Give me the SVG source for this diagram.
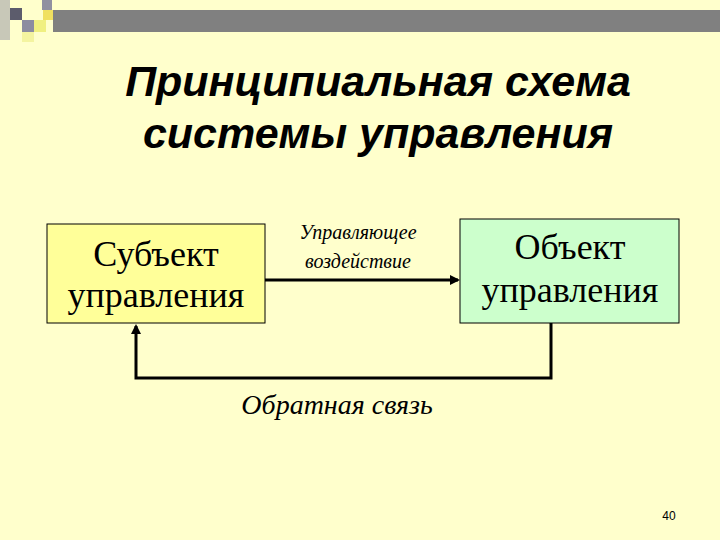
<svg xmlns="http://www.w3.org/2000/svg" width="720" height="540" viewBox="0 0 720 540">
<style>
.t{font-family:"Liberation Sans",Arial,sans-serif;font-weight:bold;font-style:italic;font-size:43px;fill:#000}
.b{font-family:"Liberation Serif","Times New Roman",serif;font-size:36px;fill:#000}
.i{font-family:"Liberation Serif","DejaVu Serif","Times New Roman",serif;font-style:italic;font-size:20px;fill:#000}
.c{stroke:#000;stroke-width:3;fill:none}
</style>
<defs><marker id="a" markerWidth="10" markerHeight="10" refX="8" refY="5" orient="auto" markerUnits="userSpaceOnUse"><path d="M0,0L10,5L0,10z" fill="#000"/></marker></defs>
<rect width="720" height="540" fill="#FFFFCC"/>
<g id="decor">
<rect x="0" y="0" width="10" height="40" fill="#C8C8B8"/>
<rect x="10" y="8" width="12" height="12" fill="#5C5C6C"/>
<rect x="22" y="20" width="12" height="12" fill="#8C8CA0"/>
<rect x="34" y="20" width="12" height="12" fill="#F0F080"/>
<rect x="42" y="0" width="10" height="10" fill="#9090A0"/>
<rect x="43" y="10" width="10" height="10" fill="#F0E060"/>
<rect x="22" y="32" width="12" height="10" fill="#F4F4A0"/>
<rect x="53" y="10" width="667" height="22" fill="#808080"/>
</g>
<text class="t" x="378" y="96" text-anchor="middle">Принципиальная схема</text>
<text class="t" x="378" y="148" text-anchor="middle">системы управления</text>
<g id="subj">
<rect x="47" y="224" width="218" height="99" fill="#FFFF99" stroke="#000" stroke-width="1"/>
<text class="b" x="156" y="266" text-anchor="middle">Субъект</text>
<text class="b" x="156" y="307" text-anchor="middle">управления</text>
</g>
<g id="obj">
<rect x="460" y="219" width="219" height="104" fill="#CCFFCC" stroke="#000" stroke-width="1"/>
<text class="b" x="570" y="259" text-anchor="middle">Объект</text>
<text class="b" x="570" y="302" text-anchor="middle">управления</text>
</g>
<g id="connectors">
<line class="c" x1="265" y1="280" x2="458" y2="280" marker-end="url(#a)"/>
<polyline class="c" points="551,323 551,378 136,378 136,326" marker-end="url(#a)"/>
</g>
<text class="i" x="358" y="239" text-anchor="middle">Управляющее</text>
<text class="i" x="358" y="268" text-anchor="middle">воздействие</text>
<text class="i" x="337" y="414" text-anchor="middle" style="font-size:28px">Обратная связь</text>
<text x="669" y="520" text-anchor="middle" style="font-family:'Liberation Sans',Arial,sans-serif;font-size:12px">40</text>
</svg>
